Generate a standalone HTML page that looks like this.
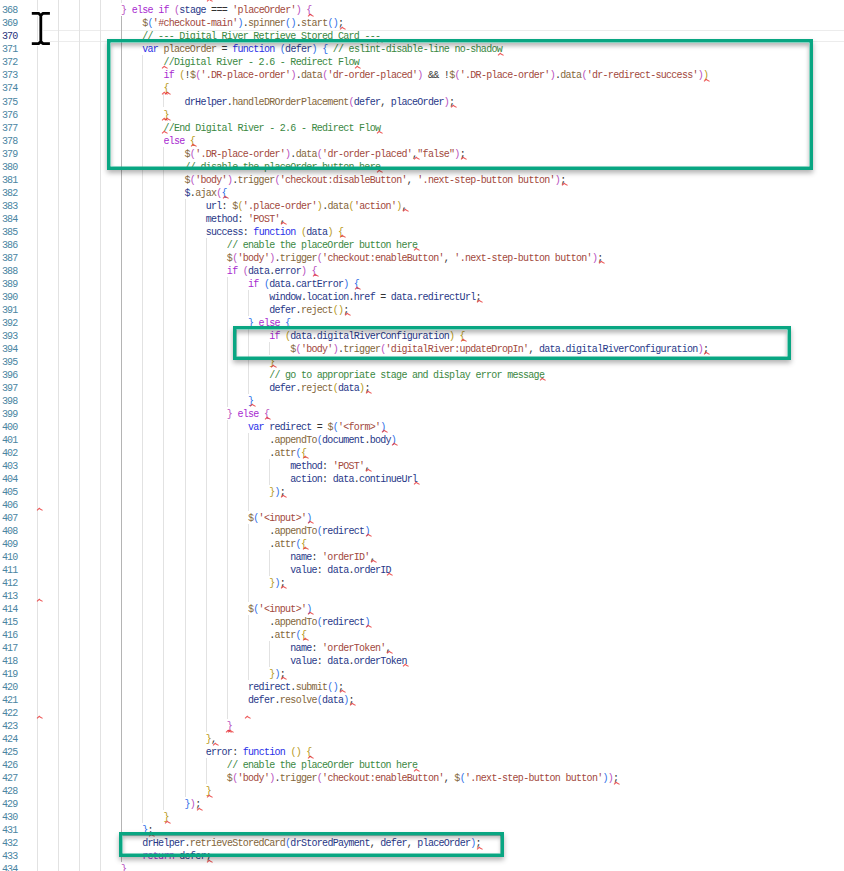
<!DOCTYPE html><html><head><meta charset="utf-8"><style>
html,body{margin:0;padding:0;background:#fff;}
body{width:844px;height:871px;overflow:hidden;position:relative;font-family:"Liberation Mono",monospace;}
.c,.ln{position:absolute;white-space:pre;font-size:10.00px;line-height:13.00px;height:13.00px;letter-spacing:-0.712px;}
.c i{font-style:normal}
.ln{left:0;width:17.6px;text-align:right;color:#4a85a2;letter-spacing:-0.762px}
.ln.act{color:#25307a}
.g,.ga{position:absolute;width:1px;background:#e2e2e2}
.ga{background:#b4b4b4}
.hl{position:absolute;left:37px;right:0;height:1px;background:#ececec}
.sq{position:absolute}
.bx{position:absolute;box-shadow:inset 0 0 0 3.5px #09a682, 0 3px 5px rgba(0,0,0,.3)}
.bi{position:absolute;left:3.5px;top:3.5px;right:3.5px;bottom:3.5px;box-shadow:inset 0 3px 4px rgba(0,0,0,.28)}
.cur{position:absolute}
</style></head><body>
<div class="hl" style="top:29.92px"></div><div class="hl" style="top:41.43px"></div>
<div class="g" style="left:36.50px;top:0.00px;height:875.00px"></div>
<div class="g" style="left:57.65px;top:0.00px;height:875.00px"></div>
<div class="g" style="left:78.80px;top:0.00px;height:875.00px"></div>
<div class="g" style="left:99.96px;top:0.00px;height:875.00px"></div>
<div class="g" style="left:121.11px;top:0.00px;height:3.40px"></div>
<div class="ga" style="left:121.11px;top:16.41px;height:845.59px"></div>
<div class="g" style="left:142.26px;top:55.44px;height:767.53px"></div>
<div class="g" style="left:163.41px;top:94.46px;height:13.01px"></div>
<div class="g" style="left:163.41px;top:146.50px;height:663.46px"></div>
<div class="g" style="left:184.56px;top:198.53px;height:598.41px"></div>
<div class="g" style="left:205.72px;top:237.56px;height:494.34px"></div>
<div class="g" style="left:205.72px;top:757.92px;height:26.02px"></div>
<div class="g" style="left:226.87px;top:276.59px;height:130.09px"></div>
<div class="g" style="left:226.87px;top:419.69px;height:299.21px"></div>
<div class="g" style="left:248.02px;top:289.60px;height:26.02px"></div>
<div class="g" style="left:248.02px;top:328.63px;height:65.05px"></div>
<div class="g" style="left:248.02px;top:432.70px;height:78.05px"></div>
<div class="g" style="left:248.02px;top:523.76px;height:78.05px"></div>
<div class="g" style="left:248.02px;top:614.82px;height:65.05px"></div>
<div class="g" style="left:269.17px;top:341.63px;height:13.01px"></div>
<div class="g" style="left:269.17px;top:458.72px;height:26.02px"></div>
<div class="g" style="left:269.17px;top:549.78px;height:26.02px"></div>
<div class="g" style="left:269.17px;top:640.84px;height:26.02px"></div>
<div class="ln" style="top:4.44px">368</div>
<div class="c" style="top:4.44px;left:121.11px"><i style="color:#b850c0">}</i> <i style="color:#a82ad0">else</i> <i style="color:#a82ad0">if</i> <i style="color:#b850c0">(</i><i style="color:#283888">stage</i> <i style="color:#333333">=</i><i style="color:#333333">=</i><i style="color:#333333">=</i> <i style="color:#a2483c">&#x27;placeOrder&#x27;</i><i style="color:#b850c0">)</i> <i style="color:#b850c0">{</i></div>
<div class="ln" style="top:17.45px">369</div>
<div class="c" style="top:17.45px;left:142.26px"><i style="color:#84663a">$</i><i style="color:#3070e8">(</i><i style="color:#a2483c">&#x27;#checkout-main&#x27;</i><i style="color:#3070e8">)</i><i style="color:#333333">.</i><i style="color:#84663a">spinner</i><i style="color:#3070e8">(</i><i style="color:#3070e8">)</i><i style="color:#333333">.</i><i style="color:#84663a">start</i><i style="color:#3070e8">(</i><i style="color:#3070e8">)</i><i style="color:#333333">;</i></div>
<div class="ln act" style="top:30.46px">370</div>
<div class="c" style="top:30.46px;left:142.26px"><i style="color:#3a8842">// --- Digital River Retrieve Stored Card ---</i></div>
<div class="ln" style="top:43.47px">371</div>
<div class="c" style="top:43.47px;left:142.26px"><i style="color:#2a30e8">var</i> <i style="color:#84663a">placeOrder</i> <i style="color:#333333">=</i> <i style="color:#2a30e8">function</i> <i style="color:#3070e8">(</i><i style="color:#283888">defer</i><i style="color:#3070e8">)</i> <i style="color:#3070e8">{</i> <i style="color:#3a8842">// eslint-disable-line no-shadow</i></div>
<div class="ln" style="top:56.47px">372</div>
<div class="c" style="top:56.47px;left:163.41px"><i style="color:#3a8842">//Digital River - 2.6 - Redirect Flow</i></div>
<div class="ln" style="top:69.48px">373</div>
<div class="c" style="top:69.48px;left:163.41px"><i style="color:#a82ad0">if</i> <i style="color:#b89a20">(</i><i style="color:#333333">!</i><i style="color:#84663a">$</i><i style="color:#b850c0">(</i><i style="color:#a2483c">&#x27;.DR-place-order&#x27;</i><i style="color:#b850c0">)</i><i style="color:#333333">.</i><i style="color:#84663a">data</i><i style="color:#b850c0">(</i><i style="color:#a2483c">&#x27;dr-order-placed&#x27;</i><i style="color:#b850c0">)</i> <i style="color:#333333">&amp;</i><i style="color:#333333">&amp;</i> <i style="color:#333333">!</i><i style="color:#84663a">$</i><i style="color:#b850c0">(</i><i style="color:#a2483c">&#x27;.DR-place-order&#x27;</i><i style="color:#b850c0">)</i><i style="color:#333333">.</i><i style="color:#84663a">data</i><i style="color:#b850c0">(</i><i style="color:#a2483c">&#x27;dr-redirect-success&#x27;</i><i style="color:#b850c0">)</i><i style="color:#b89a20">)</i></div>
<div class="ln" style="top:82.49px">374</div>
<div class="c" style="top:82.49px;left:163.41px"><i style="color:#b89a20">{</i></div>
<div class="ln" style="top:95.50px">375</div>
<div class="c" style="top:95.50px;left:184.56px"><i style="color:#283888">drHelper</i><i style="color:#333333">.</i><i style="color:#84663a">handleDROrderPlacement</i><i style="color:#b850c0">(</i><i style="color:#283888">defer</i><i style="color:#333333">,</i> <i style="color:#283888">placeOrder</i><i style="color:#b850c0">)</i><i style="color:#333333">;</i></div>
<div class="ln" style="top:108.51px">376</div>
<div class="c" style="top:108.51px;left:163.41px"><i style="color:#b89a20">}</i></div>
<div class="ln" style="top:121.52px">377</div>
<div class="c" style="top:121.52px;left:163.41px"><i style="color:#3a8842">//End Digital River - 2.6 - Redirect Flow</i></div>
<div class="ln" style="top:134.53px">378</div>
<div class="c" style="top:134.53px;left:163.41px"><i style="color:#a82ad0">else</i> <i style="color:#b89a20">{</i></div>
<div class="ln" style="top:147.54px">379</div>
<div class="c" style="top:147.54px;left:184.56px"><i style="color:#84663a">$</i><i style="color:#b850c0">(</i><i style="color:#a2483c">&#x27;.DR-place-order&#x27;</i><i style="color:#b850c0">)</i><i style="color:#333333">.</i><i style="color:#84663a">data</i><i style="color:#b850c0">(</i><i style="color:#a2483c">&#x27;dr-order-placed&#x27;</i><i style="color:#333333">,</i><i style="color:#a2483c">&quot;false&quot;</i><i style="color:#b850c0">)</i><i style="color:#333333">;</i></div>
<div class="ln" style="top:160.55px">380</div>
<div class="c" style="top:160.55px;left:184.56px"><i style="color:#3a8842">// disable the placeOrder button here</i></div>
<div class="ln" style="top:173.56px">381</div>
<div class="c" style="top:173.56px;left:184.56px"><i style="color:#84663a">$</i><i style="color:#b850c0">(</i><i style="color:#a2483c">&#x27;body&#x27;</i><i style="color:#b850c0">)</i><i style="color:#333333">.</i><i style="color:#84663a">trigger</i><i style="color:#b850c0">(</i><i style="color:#a2483c">&#x27;checkout:disableButton&#x27;</i><i style="color:#333333">,</i> <i style="color:#a2483c">&#x27;.next-step-button button&#x27;</i><i style="color:#b850c0">)</i><i style="color:#333333">;</i></div>
<div class="ln" style="top:186.56px">382</div>
<div class="c" style="top:186.56px;left:184.56px"><i style="color:#283888">$</i><i style="color:#333333">.</i><i style="color:#84663a">ajax</i><i style="color:#b850c0">(</i><i style="color:#3070e8">{</i></div>
<div class="ln" style="top:199.57px">383</div>
<div class="c" style="top:199.57px;left:205.72px"><i style="color:#283888">url</i><i style="color:#333333">:</i> <i style="color:#84663a">$</i><i style="color:#b89a20">(</i><i style="color:#a2483c">&#x27;.place-order&#x27;</i><i style="color:#b89a20">)</i><i style="color:#333333">.</i><i style="color:#84663a">data</i><i style="color:#b89a20">(</i><i style="color:#a2483c">&#x27;action&#x27;</i><i style="color:#b89a20">)</i><i style="color:#333333">,</i></div>
<div class="ln" style="top:212.58px">384</div>
<div class="c" style="top:212.58px;left:205.72px"><i style="color:#283888">method</i><i style="color:#333333">:</i> <i style="color:#a2483c">&#x27;POST&#x27;</i><i style="color:#333333">,</i></div>
<div class="ln" style="top:225.59px">385</div>
<div class="c" style="top:225.59px;left:205.72px"><i style="color:#283888">success</i><i style="color:#333333">:</i> <i style="color:#2a30e8">function</i> <i style="color:#b89a20">(</i><i style="color:#283888">data</i><i style="color:#b89a20">)</i> <i style="color:#b89a20">{</i></div>
<div class="ln" style="top:238.60px">386</div>
<div class="c" style="top:238.60px;left:226.87px"><i style="color:#3a8842">// enable the placeOrder button here</i></div>
<div class="ln" style="top:251.61px">387</div>
<div class="c" style="top:251.61px;left:226.87px"><i style="color:#84663a">$</i><i style="color:#b850c0">(</i><i style="color:#a2483c">&#x27;body&#x27;</i><i style="color:#b850c0">)</i><i style="color:#333333">.</i><i style="color:#84663a">trigger</i><i style="color:#b850c0">(</i><i style="color:#a2483c">&#x27;checkout:enableButton&#x27;</i><i style="color:#333333">,</i> <i style="color:#a2483c">&#x27;.next-step-button button&#x27;</i><i style="color:#b850c0">)</i><i style="color:#333333">;</i></div>
<div class="ln" style="top:264.62px">388</div>
<div class="c" style="top:264.62px;left:226.87px"><i style="color:#a82ad0">if</i> <i style="color:#b850c0">(</i><i style="color:#283888">data</i><i style="color:#333333">.</i><i style="color:#283888">error</i><i style="color:#b850c0">)</i> <i style="color:#b850c0">{</i></div>
<div class="ln" style="top:277.63px">389</div>
<div class="c" style="top:277.63px;left:248.02px"><i style="color:#a82ad0">if</i> <i style="color:#3070e8">(</i><i style="color:#283888">data</i><i style="color:#333333">.</i><i style="color:#283888">cartError</i><i style="color:#3070e8">)</i> <i style="color:#3070e8">{</i></div>
<div class="ln" style="top:290.64px">390</div>
<div class="c" style="top:290.64px;left:269.17px"><i style="color:#283888">window</i><i style="color:#333333">.</i><i style="color:#283888">location</i><i style="color:#333333">.</i><i style="color:#283888">href</i> <i style="color:#333333">=</i> <i style="color:#283888">data</i><i style="color:#333333">.</i><i style="color:#283888">redirectUrl</i><i style="color:#333333">;</i></div>
<div class="ln" style="top:303.65px">391</div>
<div class="c" style="top:303.65px;left:269.17px"><i style="color:#283888">defer</i><i style="color:#333333">.</i><i style="color:#84663a">reject</i><i style="color:#b89a20">(</i><i style="color:#b89a20">)</i><i style="color:#333333">;</i></div>
<div class="ln" style="top:316.65px">392</div>
<div class="c" style="top:316.65px;left:248.02px"><i style="color:#3070e8">}</i> <i style="color:#a82ad0">else</i> <i style="color:#3070e8">{</i></div>
<div class="ln" style="top:329.66px">393</div>
<div class="c" style="top:329.66px;left:269.17px"><i style="color:#a82ad0">if</i> <i style="color:#b89a20">(</i><i style="color:#283888">data</i><i style="color:#333333">.</i><i style="color:#283888">digitalRiverConfiguration</i><i style="color:#b89a20">)</i> <i style="color:#b89a20">{</i></div>
<div class="ln" style="top:342.67px">394</div>
<div class="c" style="top:342.67px;left:290.32px"><i style="color:#84663a">$</i><i style="color:#b850c0">(</i><i style="color:#a2483c">&#x27;body&#x27;</i><i style="color:#b850c0">)</i><i style="color:#333333">.</i><i style="color:#84663a">trigger</i><i style="color:#b850c0">(</i><i style="color:#a2483c">&#x27;digitalRiver:updateDropIn&#x27;</i><i style="color:#333333">,</i> <i style="color:#283888">data</i><i style="color:#333333">.</i><i style="color:#283888">digitalRiverConfiguration</i><i style="color:#b850c0">)</i><i style="color:#333333">;</i></div>
<div class="ln" style="top:355.68px">395</div>
<div class="c" style="top:355.68px;left:269.17px"><i style="color:#b89a20">}</i></div>
<div class="ln" style="top:368.69px">396</div>
<div class="c" style="top:368.69px;left:269.17px"><i style="color:#3a8842">// go to appropriate stage and display error message</i></div>
<div class="ln" style="top:381.70px">397</div>
<div class="c" style="top:381.70px;left:269.17px"><i style="color:#283888">defer</i><i style="color:#333333">.</i><i style="color:#84663a">reject</i><i style="color:#b89a20">(</i><i style="color:#283888">data</i><i style="color:#b89a20">)</i><i style="color:#333333">;</i></div>
<div class="ln" style="top:394.71px">398</div>
<div class="c" style="top:394.71px;left:248.02px"><i style="color:#3070e8">}</i></div>
<div class="ln" style="top:407.72px">399</div>
<div class="c" style="top:407.72px;left:226.87px"><i style="color:#b850c0">}</i> <i style="color:#a82ad0">else</i> <i style="color:#b850c0">{</i></div>
<div class="ln" style="top:420.73px">400</div>
<div class="c" style="top:420.73px;left:248.02px"><i style="color:#2a30e8">var</i> <i style="color:#283888">redirect</i> <i style="color:#333333">=</i> <i style="color:#84663a">$</i><i style="color:#3070e8">(</i><i style="color:#a2483c">&#x27;&lt;form&gt;&#x27;</i><i style="color:#3070e8">)</i></div>
<div class="ln" style="top:433.74px">401</div>
<div class="c" style="top:433.74px;left:269.17px"><i style="color:#333333">.</i><i style="color:#84663a">appendTo</i><i style="color:#3070e8">(</i><i style="color:#283888">document</i><i style="color:#333333">.</i><i style="color:#283888">body</i><i style="color:#3070e8">)</i></div>
<div class="ln" style="top:446.74px">402</div>
<div class="c" style="top:446.74px;left:269.17px"><i style="color:#333333">.</i><i style="color:#84663a">attr</i><i style="color:#3070e8">(</i><i style="color:#b89a20">{</i></div>
<div class="ln" style="top:459.75px">403</div>
<div class="c" style="top:459.75px;left:290.32px"><i style="color:#283888">method</i><i style="color:#333333">:</i> <i style="color:#a2483c">&#x27;POST&#x27;</i><i style="color:#333333">,</i></div>
<div class="ln" style="top:472.76px">404</div>
<div class="c" style="top:472.76px;left:290.32px"><i style="color:#283888">action</i><i style="color:#333333">:</i> <i style="color:#283888">data</i><i style="color:#333333">.</i><i style="color:#283888">continueUrl</i></div>
<div class="ln" style="top:485.77px">405</div>
<div class="c" style="top:485.77px;left:269.17px"><i style="color:#b89a20">}</i><i style="color:#3070e8">)</i><i style="color:#333333">;</i></div>
<div class="ln" style="top:498.78px">406</div>
<div class="ln" style="top:511.79px">407</div>
<div class="c" style="top:511.79px;left:248.02px"><i style="color:#84663a">$</i><i style="color:#3070e8">(</i><i style="color:#a2483c">&#x27;&lt;input&gt;&#x27;</i><i style="color:#3070e8">)</i></div>
<div class="ln" style="top:524.80px">408</div>
<div class="c" style="top:524.80px;left:269.17px"><i style="color:#333333">.</i><i style="color:#84663a">appendTo</i><i style="color:#3070e8">(</i><i style="color:#283888">redirect</i><i style="color:#3070e8">)</i></div>
<div class="ln" style="top:537.81px">409</div>
<div class="c" style="top:537.81px;left:269.17px"><i style="color:#333333">.</i><i style="color:#84663a">attr</i><i style="color:#3070e8">(</i><i style="color:#b89a20">{</i></div>
<div class="ln" style="top:550.82px">410</div>
<div class="c" style="top:550.82px;left:290.32px"><i style="color:#283888">name</i><i style="color:#333333">:</i> <i style="color:#a2483c">&#x27;orderID&#x27;</i><i style="color:#333333">,</i></div>
<div class="ln" style="top:563.83px">411</div>
<div class="c" style="top:563.83px;left:290.32px"><i style="color:#283888">value</i><i style="color:#333333">:</i> <i style="color:#283888">data</i><i style="color:#333333">.</i><i style="color:#283888">orderID</i></div>
<div class="ln" style="top:576.83px">412</div>
<div class="c" style="top:576.83px;left:269.17px"><i style="color:#b89a20">}</i><i style="color:#3070e8">)</i><i style="color:#333333">;</i></div>
<div class="ln" style="top:589.84px">413</div>
<div class="ln" style="top:602.85px">414</div>
<div class="c" style="top:602.85px;left:248.02px"><i style="color:#84663a">$</i><i style="color:#3070e8">(</i><i style="color:#a2483c">&#x27;&lt;input&gt;&#x27;</i><i style="color:#3070e8">)</i></div>
<div class="ln" style="top:615.86px">415</div>
<div class="c" style="top:615.86px;left:269.17px"><i style="color:#333333">.</i><i style="color:#84663a">appendTo</i><i style="color:#3070e8">(</i><i style="color:#283888">redirect</i><i style="color:#3070e8">)</i></div>
<div class="ln" style="top:628.87px">416</div>
<div class="c" style="top:628.87px;left:269.17px"><i style="color:#333333">.</i><i style="color:#84663a">attr</i><i style="color:#3070e8">(</i><i style="color:#b89a20">{</i></div>
<div class="ln" style="top:641.88px">417</div>
<div class="c" style="top:641.88px;left:290.32px"><i style="color:#283888">name</i><i style="color:#333333">:</i> <i style="color:#a2483c">&#x27;orderToken&#x27;</i><i style="color:#333333">,</i></div>
<div class="ln" style="top:654.89px">418</div>
<div class="c" style="top:654.89px;left:290.32px"><i style="color:#283888">value</i><i style="color:#333333">:</i> <i style="color:#283888">data</i><i style="color:#333333">.</i><i style="color:#283888">orderToken</i></div>
<div class="ln" style="top:667.90px">419</div>
<div class="c" style="top:667.90px;left:269.17px"><i style="color:#b89a20">}</i><i style="color:#3070e8">)</i><i style="color:#333333">;</i></div>
<div class="ln" style="top:680.91px">420</div>
<div class="c" style="top:680.91px;left:248.02px"><i style="color:#283888">redirect</i><i style="color:#333333">.</i><i style="color:#84663a">submit</i><i style="color:#3070e8">(</i><i style="color:#3070e8">)</i><i style="color:#333333">;</i></div>
<div class="ln" style="top:693.92px">421</div>
<div class="c" style="top:693.92px;left:248.02px"><i style="color:#283888">defer</i><i style="color:#333333">.</i><i style="color:#84663a">resolve</i><i style="color:#3070e8">(</i><i style="color:#283888">data</i><i style="color:#3070e8">)</i><i style="color:#333333">;</i></div>
<div class="ln" style="top:706.92px">422</div>
<div class="ln" style="top:719.93px">423</div>
<div class="c" style="top:719.93px;left:226.87px"><i style="color:#b850c0">}</i></div>
<div class="ln" style="top:732.94px">424</div>
<div class="c" style="top:732.94px;left:205.72px"><i style="color:#b89a20">}</i><i style="color:#333333">,</i></div>
<div class="ln" style="top:745.95px">425</div>
<div class="c" style="top:745.95px;left:205.72px"><i style="color:#283888">error</i><i style="color:#333333">:</i> <i style="color:#2a30e8">function</i> <i style="color:#b89a20">(</i><i style="color:#b89a20">)</i> <i style="color:#b89a20">{</i></div>
<div class="ln" style="top:758.96px">426</div>
<div class="c" style="top:758.96px;left:226.87px"><i style="color:#3a8842">// enable the placeOrder button here</i></div>
<div class="ln" style="top:771.97px">427</div>
<div class="c" style="top:771.97px;left:226.87px"><i style="color:#84663a">$</i><i style="color:#b850c0">(</i><i style="color:#a2483c">&#x27;body&#x27;</i><i style="color:#b850c0">)</i><i style="color:#333333">.</i><i style="color:#84663a">trigger</i><i style="color:#b850c0">(</i><i style="color:#a2483c">&#x27;checkout:enableButton&#x27;</i><i style="color:#333333">,</i> <i style="color:#84663a">$</i><i style="color:#3070e8">(</i><i style="color:#a2483c">&#x27;.next-step-button button&#x27;</i><i style="color:#3070e8">)</i><i style="color:#b850c0">)</i><i style="color:#333333">;</i></div>
<div class="ln" style="top:784.98px">428</div>
<div class="c" style="top:784.98px;left:205.72px"><i style="color:#b89a20">}</i></div>
<div class="ln" style="top:797.99px">429</div>
<div class="c" style="top:797.99px;left:184.56px"><i style="color:#3070e8">}</i><i style="color:#b850c0">)</i><i style="color:#333333">;</i></div>
<div class="ln" style="top:811.00px">430</div>
<div class="c" style="top:811.00px;left:163.41px"><i style="color:#b89a20">}</i></div>
<div class="ln" style="top:824.01px">431</div>
<div class="c" style="top:824.01px;left:142.26px"><i style="color:#3070e8">}</i><i style="color:#333333">;</i></div>
<div class="ln" style="top:837.01px">432</div>
<div class="c" style="top:837.01px;left:142.26px"><i style="color:#283888">drHelper</i><i style="color:#333333">.</i><i style="color:#84663a">retrieveStoredCard</i><i style="color:#3070e8">(</i><i style="color:#283888">drStoredPayment</i><i style="color:#333333">,</i> <i style="color:#283888">defer</i><i style="color:#333333">,</i> <i style="color:#283888">placeOrder</i><i style="color:#3070e8">)</i><i style="color:#333333">;</i></div>
<div class="ln" style="top:850.02px">433</div>
<div class="c" style="top:850.02px;left:142.26px"><i style="color:#a82ad0">return</i> <i style="color:#283888">defer</i><i style="color:#333333">;</i></div>
<div class="ln" style="top:863.03px">434</div>
<div class="c" style="top:863.03px;left:121.11px"><i style="color:#b850c0">}</i></div>
<svg class="sq" style="left:306.79px;top:13.00px" width="8" height="4" viewBox="0 0 8 4"><path d="M1 3.4 L3.3 1.3 L4.5 2.3 L6.6 3.4" fill="none" stroke="#e83030" stroke-width="1.05" stroke-opacity=".8"/></svg>
<svg class="sq" style="left:338.52px;top:26.01px" width="8" height="4" viewBox="0 0 8 4"><path d="M1 3.4 L3.3 1.3 L4.5 2.3 L6.6 3.4" fill="none" stroke="#e83030" stroke-width="1.05" stroke-opacity=".8"/></svg>
<svg class="sq" style="left:375.53px;top:39.02px" width="8" height="4" viewBox="0 0 8 4"><path d="M1 3.4 L3.3 1.3 L4.5 2.3 L6.6 3.4" fill="none" stroke="#e83030" stroke-width="1.05" stroke-opacity=".8"/></svg>
<svg class="sq" style="left:497.16px;top:52.03px" width="8" height="4" viewBox="0 0 8 4"><path d="M1 3.4 L3.3 1.3 L4.5 2.3 L6.6 3.4" fill="none" stroke="#e83030" stroke-width="1.05" stroke-opacity=".8"/></svg>
<svg class="sq" style="left:354.38px;top:65.04px" width="8" height="4" viewBox="0 0 8 4"><path d="M1 3.4 L3.3 1.3 L4.5 2.3 L6.6 3.4" fill="none" stroke="#e83030" stroke-width="1.05" stroke-opacity=".8"/></svg>
<svg class="sq" style="left:703.39px;top:78.05px" width="8" height="4" viewBox="0 0 8 4"><path d="M1 3.4 L3.3 1.3 L4.5 2.3 L6.6 3.4" fill="none" stroke="#e83030" stroke-width="1.05" stroke-opacity=".8"/></svg>
<svg class="sq" style="left:164.01px;top:91.05px" width="8" height="4" viewBox="0 0 8 4"><path d="M1 3.4 L3.3 1.3 L4.5 2.3 L6.6 3.4" fill="none" stroke="#e83030" stroke-width="1.05" stroke-opacity=".8"/></svg>
<svg class="sq" style="left:449.56px;top:104.06px" width="8" height="4" viewBox="0 0 8 4"><path d="M1 3.4 L3.3 1.3 L4.5 2.3 L6.6 3.4" fill="none" stroke="#e83030" stroke-width="1.05" stroke-opacity=".8"/></svg>
<svg class="sq" style="left:164.01px;top:117.07px" width="8" height="4" viewBox="0 0 8 4"><path d="M1 3.4 L3.3 1.3 L4.5 2.3 L6.6 3.4" fill="none" stroke="#e83030" stroke-width="1.05" stroke-opacity=".8"/></svg>
<svg class="sq" style="left:375.53px;top:130.08px" width="8" height="4" viewBox="0 0 8 4"><path d="M1 3.4 L3.3 1.3 L4.5 2.3 L6.6 3.4" fill="none" stroke="#e83030" stroke-width="1.05" stroke-opacity=".8"/></svg>
<svg class="sq" style="left:190.45px;top:143.09px" width="8" height="4" viewBox="0 0 8 4"><path d="M1 3.4 L3.3 1.3 L4.5 2.3 L6.6 3.4" fill="none" stroke="#e83030" stroke-width="1.05" stroke-opacity=".8"/></svg>
<svg class="sq" style="left:460.14px;top:156.10px" width="8" height="4" viewBox="0 0 8 4"><path d="M1 3.4 L3.3 1.3 L4.5 2.3 L6.6 3.4" fill="none" stroke="#e83030" stroke-width="1.05" stroke-opacity=".8"/></svg>
<svg class="sq" style="left:375.53px;top:169.11px" width="8" height="4" viewBox="0 0 8 4"><path d="M1 3.4 L3.3 1.3 L4.5 2.3 L6.6 3.4" fill="none" stroke="#e83030" stroke-width="1.05" stroke-opacity=".8"/></svg>
<svg class="sq" style="left:560.61px;top:182.12px" width="8" height="4" viewBox="0 0 8 4"><path d="M1 3.4 L3.3 1.3 L4.5 2.3 L6.6 3.4" fill="none" stroke="#e83030" stroke-width="1.05" stroke-opacity=".8"/></svg>
<svg class="sq" style="left:222.18px;top:195.13px" width="8" height="4" viewBox="0 0 8 4"><path d="M1 3.4 L3.3 1.3 L4.5 2.3 L6.6 3.4" fill="none" stroke="#e83030" stroke-width="1.05" stroke-opacity=".8"/></svg>
<svg class="sq" style="left:401.97px;top:208.13px" width="8" height="4" viewBox="0 0 8 4"><path d="M1 3.4 L3.3 1.3 L4.5 2.3 L6.6 3.4" fill="none" stroke="#e83030" stroke-width="1.05" stroke-opacity=".8"/></svg>
<svg class="sq" style="left:280.35px;top:221.14px" width="8" height="4" viewBox="0 0 8 4"><path d="M1 3.4 L3.3 1.3 L4.5 2.3 L6.6 3.4" fill="none" stroke="#e83030" stroke-width="1.05" stroke-opacity=".8"/></svg>
<svg class="sq" style="left:338.52px;top:234.15px" width="8" height="4" viewBox="0 0 8 4"><path d="M1 3.4 L3.3 1.3 L4.5 2.3 L6.6 3.4" fill="none" stroke="#e83030" stroke-width="1.05" stroke-opacity=".8"/></svg>
<svg class="sq" style="left:412.55px;top:247.16px" width="8" height="4" viewBox="0 0 8 4"><path d="M1 3.4 L3.3 1.3 L4.5 2.3 L6.6 3.4" fill="none" stroke="#e83030" stroke-width="1.05" stroke-opacity=".8"/></svg>
<svg class="sq" style="left:597.63px;top:260.17px" width="8" height="4" viewBox="0 0 8 4"><path d="M1 3.4 L3.3 1.3 L4.5 2.3 L6.6 3.4" fill="none" stroke="#e83030" stroke-width="1.05" stroke-opacity=".8"/></svg>
<svg class="sq" style="left:312.08px;top:273.18px" width="8" height="4" viewBox="0 0 8 4"><path d="M1 3.4 L3.3 1.3 L4.5 2.3 L6.6 3.4" fill="none" stroke="#e83030" stroke-width="1.05" stroke-opacity=".8"/></svg>
<svg class="sq" style="left:354.38px;top:286.19px" width="8" height="4" viewBox="0 0 8 4"><path d="M1 3.4 L3.3 1.3 L4.5 2.3 L6.6 3.4" fill="none" stroke="#e83030" stroke-width="1.05" stroke-opacity=".8"/></svg>
<svg class="sq" style="left:476.00px;top:299.20px" width="8" height="4" viewBox="0 0 8 4"><path d="M1 3.4 L3.3 1.3 L4.5 2.3 L6.6 3.4" fill="none" stroke="#e83030" stroke-width="1.05" stroke-opacity=".8"/></svg>
<svg class="sq" style="left:343.80px;top:312.21px" width="8" height="4" viewBox="0 0 8 4"><path d="M1 3.4 L3.3 1.3 L4.5 2.3 L6.6 3.4" fill="none" stroke="#e83030" stroke-width="1.05" stroke-opacity=".8"/></svg>
<svg class="sq" style="left:285.64px;top:325.22px" width="8" height="4" viewBox="0 0 8 4"><path d="M1 3.4 L3.3 1.3 L4.5 2.3 L6.6 3.4" fill="none" stroke="#e83030" stroke-width="1.05" stroke-opacity=".8"/></svg>
<svg class="sq" style="left:460.14px;top:338.23px" width="8" height="4" viewBox="0 0 8 4"><path d="M1 3.4 L3.3 1.3 L4.5 2.3 L6.6 3.4" fill="none" stroke="#e83030" stroke-width="1.05" stroke-opacity=".8"/></svg>
<svg class="sq" style="left:703.39px;top:351.23px" width="8" height="4" viewBox="0 0 8 4"><path d="M1 3.4 L3.3 1.3 L4.5 2.3 L6.6 3.4" fill="none" stroke="#e83030" stroke-width="1.05" stroke-opacity=".8"/></svg>
<svg class="sq" style="left:269.77px;top:364.24px" width="8" height="4" viewBox="0 0 8 4"><path d="M1 3.4 L3.3 1.3 L4.5 2.3 L6.6 3.4" fill="none" stroke="#e83030" stroke-width="1.05" stroke-opacity=".8"/></svg>
<svg class="sq" style="left:539.46px;top:377.25px" width="8" height="4" viewBox="0 0 8 4"><path d="M1 3.4 L3.3 1.3 L4.5 2.3 L6.6 3.4" fill="none" stroke="#e83030" stroke-width="1.05" stroke-opacity=".8"/></svg>
<svg class="sq" style="left:364.96px;top:390.26px" width="8" height="4" viewBox="0 0 8 4"><path d="M1 3.4 L3.3 1.3 L4.5 2.3 L6.6 3.4" fill="none" stroke="#e83030" stroke-width="1.05" stroke-opacity=".8"/></svg>
<svg class="sq" style="left:248.62px;top:403.27px" width="8" height="4" viewBox="0 0 8 4"><path d="M1 3.4 L3.3 1.3 L4.5 2.3 L6.6 3.4" fill="none" stroke="#e83030" stroke-width="1.05" stroke-opacity=".8"/></svg>
<svg class="sq" style="left:264.48px;top:416.28px" width="8" height="4" viewBox="0 0 8 4"><path d="M1 3.4 L3.3 1.3 L4.5 2.3 L6.6 3.4" fill="none" stroke="#e83030" stroke-width="1.05" stroke-opacity=".8"/></svg>
<svg class="sq" style="left:380.82px;top:429.29px" width="8" height="4" viewBox="0 0 8 4"><path d="M1 3.4 L3.3 1.3 L4.5 2.3 L6.6 3.4" fill="none" stroke="#e83030" stroke-width="1.05" stroke-opacity=".8"/></svg>
<svg class="sq" style="left:391.40px;top:442.30px" width="8" height="4" viewBox="0 0 8 4"><path d="M1 3.4 L3.3 1.3 L4.5 2.3 L6.6 3.4" fill="none" stroke="#e83030" stroke-width="1.05" stroke-opacity=".8"/></svg>
<svg class="sq" style="left:301.50px;top:455.31px" width="8" height="4" viewBox="0 0 8 4"><path d="M1 3.4 L3.3 1.3 L4.5 2.3 L6.6 3.4" fill="none" stroke="#e83030" stroke-width="1.05" stroke-opacity=".8"/></svg>
<svg class="sq" style="left:364.96px;top:468.31px" width="8" height="4" viewBox="0 0 8 4"><path d="M1 3.4 L3.3 1.3 L4.5 2.3 L6.6 3.4" fill="none" stroke="#e83030" stroke-width="1.05" stroke-opacity=".8"/></svg>
<svg class="sq" style="left:412.55px;top:481.32px" width="8" height="4" viewBox="0 0 8 4"><path d="M1 3.4 L3.3 1.3 L4.5 2.3 L6.6 3.4" fill="none" stroke="#e83030" stroke-width="1.05" stroke-opacity=".8"/></svg>
<svg class="sq" style="left:280.35px;top:494.33px" width="8" height="4" viewBox="0 0 8 4"><path d="M1 3.4 L3.3 1.3 L4.5 2.3 L6.6 3.4" fill="none" stroke="#e83030" stroke-width="1.05" stroke-opacity=".8"/></svg>
<svg class="sq" style="left:35.50px;top:507.34px" width="8" height="4" viewBox="0 0 8 4"><path d="M1 3.4 L3.3 1.3 L4.5 2.3 L6.6 3.4" fill="none" stroke="#e83030" stroke-width="1.05" stroke-opacity=".8"/></svg>
<svg class="sq" style="left:306.79px;top:520.35px" width="8" height="4" viewBox="0 0 8 4"><path d="M1 3.4 L3.3 1.3 L4.5 2.3 L6.6 3.4" fill="none" stroke="#e83030" stroke-width="1.05" stroke-opacity=".8"/></svg>
<svg class="sq" style="left:364.96px;top:533.36px" width="8" height="4" viewBox="0 0 8 4"><path d="M1 3.4 L3.3 1.3 L4.5 2.3 L6.6 3.4" fill="none" stroke="#e83030" stroke-width="1.05" stroke-opacity=".8"/></svg>
<svg class="sq" style="left:301.50px;top:546.37px" width="8" height="4" viewBox="0 0 8 4"><path d="M1 3.4 L3.3 1.3 L4.5 2.3 L6.6 3.4" fill="none" stroke="#e83030" stroke-width="1.05" stroke-opacity=".8"/></svg>
<svg class="sq" style="left:370.24px;top:559.38px" width="8" height="4" viewBox="0 0 8 4"><path d="M1 3.4 L3.3 1.3 L4.5 2.3 L6.6 3.4" fill="none" stroke="#e83030" stroke-width="1.05" stroke-opacity=".8"/></svg>
<svg class="sq" style="left:386.11px;top:572.39px" width="8" height="4" viewBox="0 0 8 4"><path d="M1 3.4 L3.3 1.3 L4.5 2.3 L6.6 3.4" fill="none" stroke="#e83030" stroke-width="1.05" stroke-opacity=".8"/></svg>
<svg class="sq" style="left:280.35px;top:585.40px" width="8" height="4" viewBox="0 0 8 4"><path d="M1 3.4 L3.3 1.3 L4.5 2.3 L6.6 3.4" fill="none" stroke="#e83030" stroke-width="1.05" stroke-opacity=".8"/></svg>
<svg class="sq" style="left:35.50px;top:598.40px" width="8" height="4" viewBox="0 0 8 4"><path d="M1 3.4 L3.3 1.3 L4.5 2.3 L6.6 3.4" fill="none" stroke="#e83030" stroke-width="1.05" stroke-opacity=".8"/></svg>
<svg class="sq" style="left:306.79px;top:611.41px" width="8" height="4" viewBox="0 0 8 4"><path d="M1 3.4 L3.3 1.3 L4.5 2.3 L6.6 3.4" fill="none" stroke="#e83030" stroke-width="1.05" stroke-opacity=".8"/></svg>
<svg class="sq" style="left:364.96px;top:624.42px" width="8" height="4" viewBox="0 0 8 4"><path d="M1 3.4 L3.3 1.3 L4.5 2.3 L6.6 3.4" fill="none" stroke="#e83030" stroke-width="1.05" stroke-opacity=".8"/></svg>
<svg class="sq" style="left:301.50px;top:637.43px" width="8" height="4" viewBox="0 0 8 4"><path d="M1 3.4 L3.3 1.3 L4.5 2.3 L6.6 3.4" fill="none" stroke="#e83030" stroke-width="1.05" stroke-opacity=".8"/></svg>
<svg class="sq" style="left:386.11px;top:650.44px" width="8" height="4" viewBox="0 0 8 4"><path d="M1 3.4 L3.3 1.3 L4.5 2.3 L6.6 3.4" fill="none" stroke="#e83030" stroke-width="1.05" stroke-opacity=".8"/></svg>
<svg class="sq" style="left:401.97px;top:663.45px" width="8" height="4" viewBox="0 0 8 4"><path d="M1 3.4 L3.3 1.3 L4.5 2.3 L6.6 3.4" fill="none" stroke="#e83030" stroke-width="1.05" stroke-opacity=".8"/></svg>
<svg class="sq" style="left:280.35px;top:676.46px" width="8" height="4" viewBox="0 0 8 4"><path d="M1 3.4 L3.3 1.3 L4.5 2.3 L6.6 3.4" fill="none" stroke="#e83030" stroke-width="1.05" stroke-opacity=".8"/></svg>
<svg class="sq" style="left:338.52px;top:689.47px" width="8" height="4" viewBox="0 0 8 4"><path d="M1 3.4 L3.3 1.3 L4.5 2.3 L6.6 3.4" fill="none" stroke="#e83030" stroke-width="1.05" stroke-opacity=".8"/></svg>
<svg class="sq" style="left:349.09px;top:702.48px" width="8" height="4" viewBox="0 0 8 4"><path d="M1 3.4 L3.3 1.3 L4.5 2.3 L6.6 3.4" fill="none" stroke="#e83030" stroke-width="1.05" stroke-opacity=".8"/></svg>
<svg class="sq" style="left:244.42px;top:715.49px" width="8" height="4" viewBox="0 0 8 4"><path d="M1 3.4 L3.3 1.3 L4.5 2.3 L6.6 3.4" fill="none" stroke="#e83030" stroke-width="1.05" stroke-opacity=".8"/></svg>
<svg class="sq" style="left:227.47px;top:728.50px" width="8" height="4" viewBox="0 0 8 4"><path d="M1 3.4 L3.3 1.3 L4.5 2.3 L6.6 3.4" fill="none" stroke="#e83030" stroke-width="1.05" stroke-opacity=".8"/></svg>
<svg class="sq" style="left:211.60px;top:741.50px" width="8" height="4" viewBox="0 0 8 4"><path d="M1 3.4 L3.3 1.3 L4.5 2.3 L6.6 3.4" fill="none" stroke="#e83030" stroke-width="1.05" stroke-opacity=".8"/></svg>
<svg class="sq" style="left:306.79px;top:754.51px" width="8" height="4" viewBox="0 0 8 4"><path d="M1 3.4 L3.3 1.3 L4.5 2.3 L6.6 3.4" fill="none" stroke="#e83030" stroke-width="1.05" stroke-opacity=".8"/></svg>
<svg class="sq" style="left:412.55px;top:767.52px" width="8" height="4" viewBox="0 0 8 4"><path d="M1 3.4 L3.3 1.3 L4.5 2.3 L6.6 3.4" fill="none" stroke="#e83030" stroke-width="1.05" stroke-opacity=".8"/></svg>
<svg class="sq" style="left:613.49px;top:780.53px" width="8" height="4" viewBox="0 0 8 4"><path d="M1 3.4 L3.3 1.3 L4.5 2.3 L6.6 3.4" fill="none" stroke="#e83030" stroke-width="1.05" stroke-opacity=".8"/></svg>
<svg class="sq" style="left:206.32px;top:793.54px" width="8" height="4" viewBox="0 0 8 4"><path d="M1 3.4 L3.3 1.3 L4.5 2.3 L6.6 3.4" fill="none" stroke="#e83030" stroke-width="1.05" stroke-opacity=".8"/></svg>
<svg class="sq" style="left:195.74px;top:806.55px" width="8" height="4" viewBox="0 0 8 4"><path d="M1 3.4 L3.3 1.3 L4.5 2.3 L6.6 3.4" fill="none" stroke="#e83030" stroke-width="1.05" stroke-opacity=".8"/></svg>
<svg class="sq" style="left:164.01px;top:819.56px" width="8" height="4" viewBox="0 0 8 4"><path d="M1 3.4 L3.3 1.3 L4.5 2.3 L6.6 3.4" fill="none" stroke="#e83030" stroke-width="1.05" stroke-opacity=".8"/></svg>
<svg class="sq" style="left:148.15px;top:832.57px" width="8" height="4" viewBox="0 0 8 4"><path d="M1 3.4 L3.3 1.3 L4.5 2.3 L6.6 3.4" fill="none" stroke="#e83030" stroke-width="1.05" stroke-opacity=".8"/></svg>
<svg class="sq" style="left:476.00px;top:845.58px" width="8" height="4" viewBox="0 0 8 4"><path d="M1 3.4 L3.3 1.3 L4.5 2.3 L6.6 3.4" fill="none" stroke="#e83030" stroke-width="1.05" stroke-opacity=".8"/></svg>
<svg class="sq" style="left:206.32px;top:858.59px" width="8" height="4" viewBox="0 0 8 4"><path d="M1 3.4 L3.3 1.3 L4.5 2.3 L6.6 3.4" fill="none" stroke="#e83030" stroke-width="1.05" stroke-opacity=".8"/></svg>
<svg class="sq" style="left:121.71px;top:871.59px" width="8" height="4" viewBox="0 0 8 4"><path d="M1 3.4 L3.3 1.3 L4.5 2.3 L6.6 3.4" fill="none" stroke="#e83030" stroke-width="1.05" stroke-opacity=".8"/></svg>
<svg class="sq" style="left:161.41px;top:65.04px" width="8" height="4" viewBox="0 0 8 4"><path d="M1 3.4 L3.3 1.3 L4.5 2.3 L6.6 3.4" fill="none" stroke="#e83030" stroke-width="1.05" stroke-opacity=".8"/></svg>
<svg class="sq" style="left:161.41px;top:91.05px" width="8" height="4" viewBox="0 0 8 4"><path d="M1 3.4 L3.3 1.3 L4.5 2.3 L6.6 3.4" fill="none" stroke="#e83030" stroke-width="1.05" stroke-opacity=".8"/></svg>
<svg class="sq" style="left:161.41px;top:117.07px" width="8" height="4" viewBox="0 0 8 4"><path d="M1 3.4 L3.3 1.3 L4.5 2.3 L6.6 3.4" fill="none" stroke="#e83030" stroke-width="1.05" stroke-opacity=".8"/></svg>
<svg class="sq" style="left:161.41px;top:130.08px" width="8" height="4" viewBox="0 0 8 4"><path d="M1 3.4 L3.3 1.3 L4.5 2.3 L6.6 3.4" fill="none" stroke="#e83030" stroke-width="1.05" stroke-opacity=".8"/></svg>
<svg class="sq" style="left:224.87px;top:728.50px" width="8" height="4" viewBox="0 0 8 4"><path d="M1 3.4 L3.3 1.3 L4.5 2.3 L6.6 3.4" fill="none" stroke="#e83030" stroke-width="1.05" stroke-opacity=".8"/></svg>
<svg class="sq" style="left:35.50px;top:715.49px" width="8" height="4" viewBox="0 0 8 4"><path d="M1 3.4 L3.3 1.3 L4.5 2.3 L6.6 3.4" fill="none" stroke="#e83030" stroke-width="1.05" stroke-opacity=".8"/></svg>
<svg class="sq" style="left:412.55px;top:156.10px" width="8" height="4" viewBox="0 0 8 4"><path d="M1 3.4 L3.3 1.3 L4.5 2.3 L6.6 3.4" fill="none" stroke="#e83030" stroke-width="1.05" stroke-opacity=".8"/></svg>
<svg class="sq" style="left:205.80px;top:-1.60px" width="8" height="4" viewBox="0 0 8 4"><path d="M1 3.4 L3.3 1.3 L4.5 2.3 L6.6 3.4" fill="none" stroke="#e83030" stroke-width="1.05" stroke-opacity=".8"/></svg>
<div class="bx" style="left:107.40px;top:39.20px;width:705.30px;height:130.65px"><div class="bi"></div></div>
<div class="bx" style="left:232.90px;top:326.40px;width:557.90px;height:33.45px"><div class="bi"></div></div>
<div class="bx" style="left:119.20px;top:831.70px;width:385.20px;height:25.30px"><div class="bi"></div></div>
<svg class="cur" style="left:28px;top:8px" width="26" height="41" viewBox="0 0 26 41"><path d="M3.8 5.3 H10.6 L12.8 7.6 M21.9 5.3 H15.0 L12.8 7.6 M12.8 7.4 V33.9 M3.8 35.6 H10.6 L12.8 33.6 M21.9 35.6 H15.0 L12.8 33.6" fill="none" stroke="#fff" stroke-width="5" stroke-linejoin="round"/><path d="M3.8 5.3 H10.6 L12.8 7.6 M21.9 5.3 H15.0 L12.8 7.6 M12.8 7.4 V33.9 M3.8 35.6 H10.6 L12.8 33.6 M21.9 35.6 H15.0 L12.8 33.6" fill="none" stroke="#000" stroke-width="2.8" stroke-linejoin="bevel"/></svg>
</body></html>
